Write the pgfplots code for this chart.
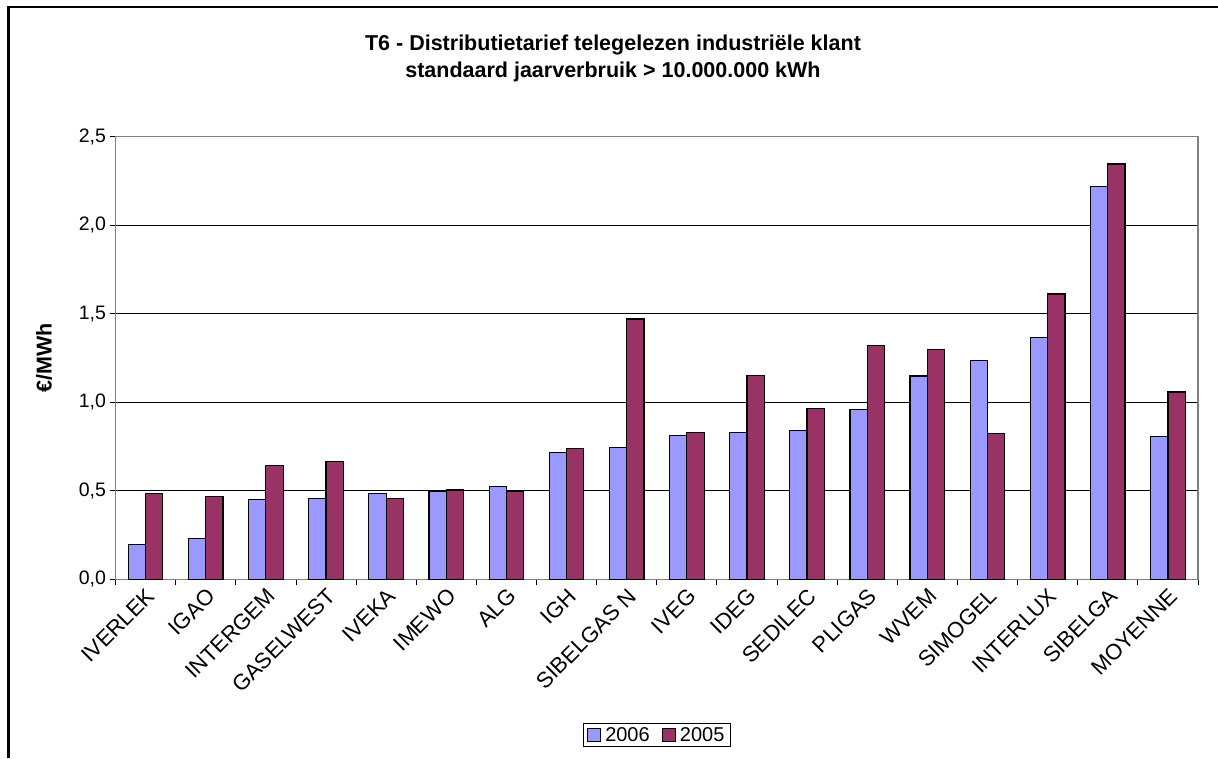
\documentclass[border=0pt]{standalone}
\usepackage{fontspec}
\setmainfont{Liberation Sans}
\usepackage{pgfplots}
\pgfplotsset{compat=1.18}
\definecolor{c2006}{HTML}{9999FF}
\definecolor{c2005}{HTML}{993366}
\definecolor{axgray}{HTML}{808080}
\begin{document}
\begin{tikzpicture}
\path[use as bounding box] (0pt,0pt) rectangle (1218pt,758pt);
\draw[line width=2.5pt] (8.5pt,0pt) -- (8.5pt,751pt) -- (1218pt,751pt);
\node[font=\bfseries\fontsize{21.5}{24}\selectfont] at (613pt,713pt) {T6 - Distributietarief telegelezen industriële klant};
\node[font=\bfseries\fontsize{21.5}{24}\selectfont] at (613pt,686pt) {standaard jaarverbruik > 10.000.000 kWh};
\begin{axis}[
  at={(115.5pt,178.7pt)}, anchor=south west,
  scale only axis, width=1082.5pt, height=442.6pt,
  ybar=0pt, bar width=17.3pt,
  xmin=-0.5, xmax=17.5, ymin=0, ymax=2.5,
  xtick={0,...,17},
  xticklabels={IVERLEK,IGAO,INTERGEM,GASELWEST,IVEKA,IMEWO,ALG,IGH,SIBELGAS N,IVEG,IDEG,SEDILEC,PLIGAS,WVEM,SIMOGEL,INTERLUX,SIBELGA,MOYENNE},
  major x tick style={draw=none},
  minor xtick={-0.5,0.5,...,17.5},
  ytick={0,0.5,...,2.5},
  tick align=outside, tick pos=left,
  major tick length=6pt, minor tick length=6pt,
  tick style={black, line width=0.8pt},
  ymajorgrids, grid style={black, line width=0.8pt},
  axis line style={axgray, line width=1.2pt},
  /pgf/number format/assume math mode=true,
  yticklabel={\pgfmathprintnumber[fixed,fixed zerofill,precision=1,use comma]{\tick}},
  yticklabel style={font=\fontsize{19.5}{22}\selectfont},
  xticklabel style={rotate=45, anchor=north east, inner sep=1pt, font=\fontsize{22}{24}\selectfont},
  ylabel={€/MWh},
  ylabel style={at={(axis description cs:-0.066,0.5)}, anchor=center, font=\bfseries\fontsize{21.5}{24}\selectfont},
  legend style={at={(0.5,-0.352)}, anchor=center, legend columns=2, draw=black, line width=1pt,
    font=\fontsize{20}{22}\selectfont, inner xsep=4pt, inner ysep=2pt,
    /tikz/every odd column/.append style={column sep=2pt},
    /tikz/every even column/.append style={column sep=10pt}},
  legend image code/.code={\draw[#1] (0pt,-6.5pt) rectangle (13pt,6.5pt);},
]
\addplot[fill=c2006, draw=black, line width=1.2pt] coordinates {
(0,0.195) (1,0.229) (2,0.449) (3,0.455) (4,0.485) (5,0.494) (6,0.526) (7,0.714) (8,0.746)
(9,0.814) (10,0.831) (11,0.842) (12,0.959) (13,1.148) (14,1.237) (15,1.367) (16,2.220) (17,0.808)};
\addplot[fill=c2005, draw=black, line width=1.2pt] coordinates {
(0,0.483) (1,0.468) (2,0.645) (3,0.667) (4,0.457) (5,0.504) (6,0.494) (7,0.739) (8,1.470)
(9,0.829) (10,1.152) (11,0.964) (12,1.320) (13,1.297) (14,0.823) (15,1.611) (16,2.346) (17,1.058)};
\legend{2006,2005}
\end{axis}
\end{tikzpicture}
\end{document}
